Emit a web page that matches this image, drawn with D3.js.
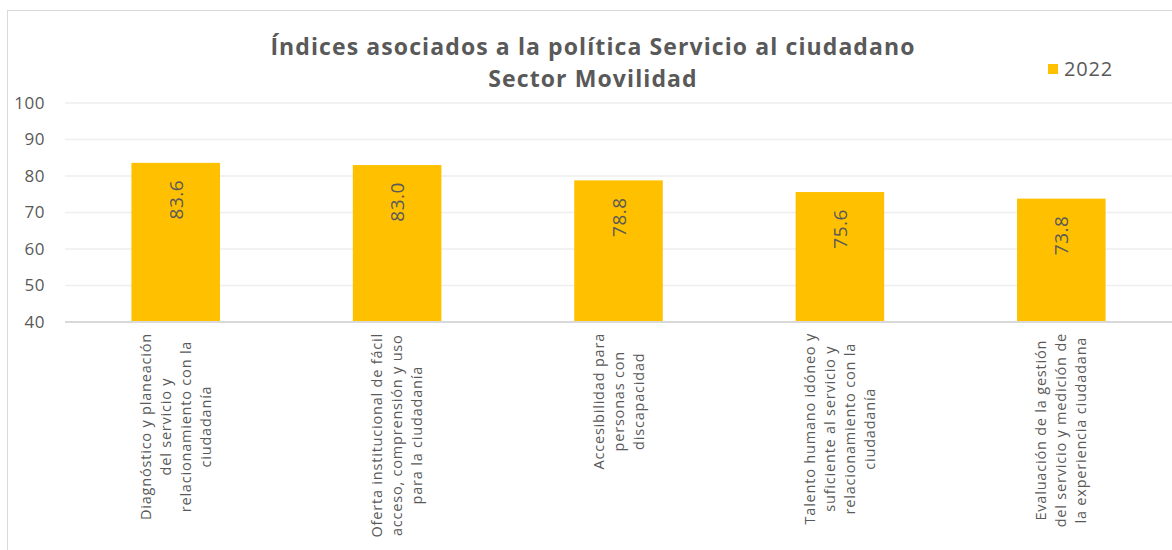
<!DOCTYPE html>
<html>
<head>
<meta charset="utf-8">
<script src="https://cdn.jsdelivr.net/npm/d3@7"></script>
<style>
  body { margin: 0; background: #fff; }
  text { font-family: 'Open Sans', 'Noto Sans', sans-serif; fill: #595959; }
</style>
</head>
<body>
<svg id="chart" width="1172" height="550"></svg>
<script>
const categories = [
  ['Diagnóstico y planeación', 'del servicio y', 'relacionamiento con la', 'ciudadanía'],
  ['Oferta institucional de fácil', 'acceso, comprensión y uso', 'para la ciudadanía'],
  ['Accesibilidad para', 'personas con', 'discapacidad'],
  ['Talento humano idóneo y', 'suficiente al servicio y', 'relacionamiento con la', 'ciudadanía'],
  ['Evaluación de la gestión', 'del servicio y medición de', 'la experiencia ciudadana']
]
const values2022 = [83.6, 83.0, 78.8, 75.6, 73.8]
const yTicks = [40, 50, 60, 70, 80, 90, 100]
const seriesName = '2022'
const titleLines = ['Índices asociados a la política Servicio al ciudadano', 'Sector Movilidad']

const width = 1172
const height = 550
const margin = { top: 103, right: 0, bottom: 228, left: 65 }
const barColor = '#FFC000'

const svg = d3.select('#chart')

// chart frame
svg.append('rect')
  .attr('x', 7.5).attr('y', 10.5)
  .attr('width', width + 10).attr('height', height + 10)
  .attr('fill', 'none').attr('stroke', '#d9d9d9')

const x = d3.scaleBand()
  .domain(d3.range(categories.length))
  .range([margin.left, width - margin.right])
  .paddingInner(0.6)
  .paddingOuter(0.3)

const y = d3.scaleLinear()
  .domain([40, 100])
  .range([height - margin.bottom, margin.top])

// gridlines
svg.append('g')
  .selectAll('line')
  .data(yTicks.slice(1))
  .join('line')
  .attr('x1', margin.left).attr('x2', width)
  .attr('y1', d => y(d)).attr('y2', d => y(d))
  .attr('stroke', '#eeeeee').attr('stroke-width', 1.3)

// y axis labels
const yAxis = d3.axisLeft(y).tickValues(yTicks).tickSize(0).tickPadding(20)
svg.append('g')
  .attr('transform', `translate(${margin.left},0)`)
  .call(yAxis)
  .call(g => g.select('.domain').remove())
  .selectAll('text')
  .style('font-size', '17px')
  .style('font-family', "'Open Sans', sans-serif")
  .style('letter-spacing', '0.5px')
  .attr('fill', '#595959')

// bars
svg.append('g')
  .selectAll('rect')
  .data(values2022)
  .join('rect')
  .attr('x', (d, i) => x(i))
  .attr('y', d => y(d))
  .attr('width', x.bandwidth())
  .attr('height', d => y(40) - y(d))
  .attr('fill', barColor)

// baseline
svg.append('line')
  .attr('x1', margin.left).attr('x2', width)
  .attr('y1', y(40)).attr('y2', y(40))
  .attr('stroke', '#d9d9d9').attr('stroke-width', 2)

// value labels inside bars, rotated
svg.append('g')
  .selectAll('text')
  .data(values2022)
  .join('text')
  .attr('transform', (d, i) => `translate(${x(i) + x.bandwidth() / 2 + 7},${y(d) + 17}) rotate(-90)`)
  .attr('text-anchor', 'end')
  .style('font-size', '19px')
  .style('letter-spacing', '0.5px')
  .attr('fill', '#404040')
  .text(d => d.toFixed(1))

// category labels, rotated and wrapped
const catGroup = svg.append('g')
categories.forEach((lines, i) => {
  const lineH = 20
  const cx = x(i) + x.bandwidth() / 2
  const firstX = cx - (lines.length - 1) * lineH / 2 + 5
  const t = catGroup.append('text')
    .style('font-size', '14.5px')
    .style('letter-spacing', '0.8px')
    .attr('fill', '#595959')
    .attr('text-anchor', 'middle')
  lines.forEach((l, j) => {
    t.append('tspan')
      .attr('x', 0)
      .attr('y', j * lineH)
      .text(l)
  })
  let longest = 0
  t.selectAll('tspan').each(function () { longest = Math.max(longest, this.getComputedTextLength()) })
  t.attr('transform', `translate(${firstX},${y(40) + 11 + longest / 2}) rotate(-90)`)
})

// title
svg.append('g')
  .selectAll('text')
  .data(titleLines)
  .join('text')
  .attr('x', 593)
  .attr('y', (d, i) => 55 + i * 32)
  .attr('text-anchor', 'middle')
  .style('font-size', '23px')
  .style('font-weight', 'bold')
  .style('letter-spacing', '1.1px')
  .attr('fill', '#595959')
  .text(d => d)

// legend
const legend = svg.append('g').attr('transform', 'translate(1048,64)')
legend.append('rect').attr('width', 10).attr('height', 10).attr('fill', barColor)
legend.append('text')
  .attr('x', 16).attr('y', 12)
  .style('font-size', '20px')
  .style('letter-spacing', '0.8px')
  .attr('fill', '#595959')
  .text(seriesName)
</script>
</body>
</html>
